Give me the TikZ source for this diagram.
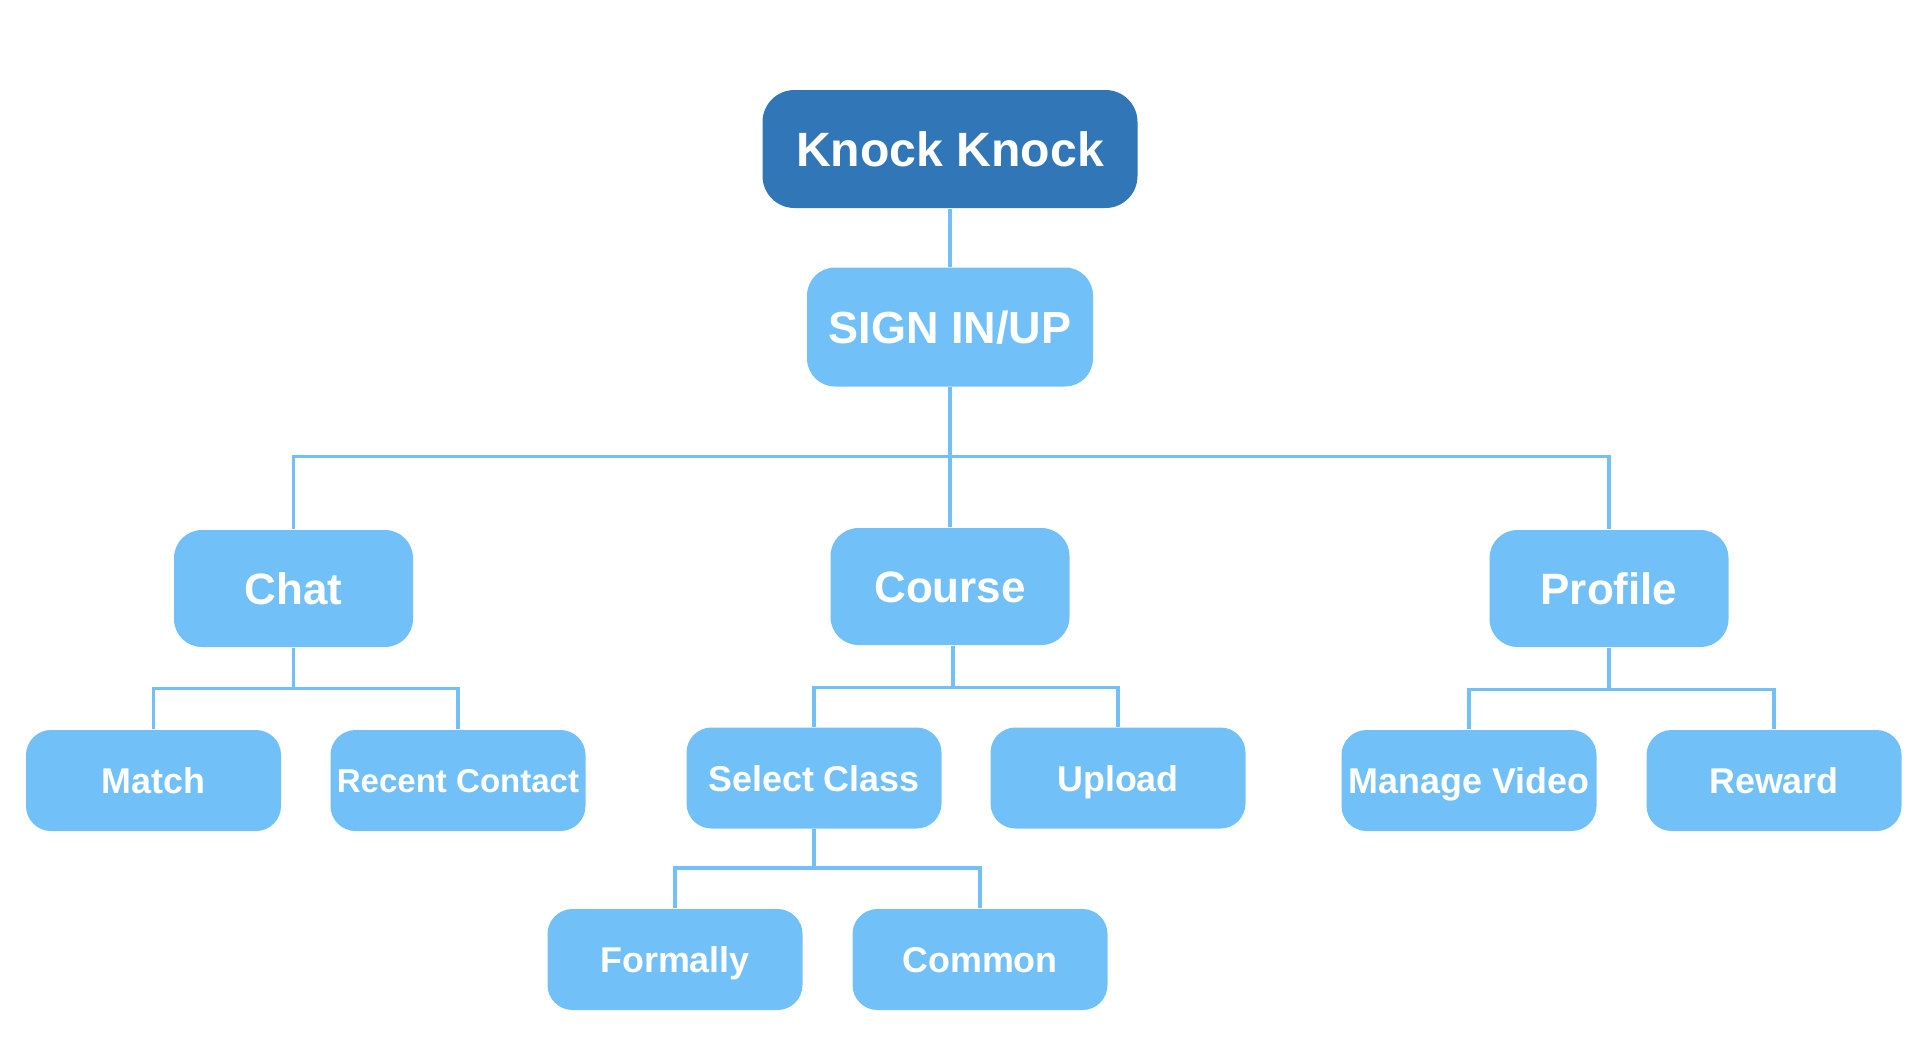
\documentclass[tikz,border=0pt]{standalone}
\usepackage{fontspec}
\setmainfont{Liberation Sans}
\definecolor{knockdark}{HTML}{3176B6}
\definecolor{knocklight}{HTML}{72C0F8}
\tikzset{
	box/.style     = {shape=rectangle, rounded corners=0.28cm, fill=knocklight, text=white,
	                  inner sep=0pt, align=center, text depth=0pt},
	rootbox/.style = {box, fill=knockdark, minimum width=3.75cm, minimum height=1.18cm,
	                  rounded corners=0.32cm, font=\fontsize{13.7pt}{14pt}\selectfont\bfseries, text height=0.35cm},
	signbox/.style = {box, minimum width=2.86cm, minimum height=1.19cm,
	                  font=\fontsize{12.8pt}{13pt}\selectfont\bfseries, text height=0.33cm},
	mainbox/.style = {box, minimum width=2.39cm, minimum height=1.17cm,
	                  font=\fontsize{12.5pt}{13pt}\selectfont\bfseries, text height=0.316cm},
	leafbox/.style = {box, minimum width=2.55cm, minimum height=1.01cm, rounded corners=0.25cm,
	                  font=\fontsize{10.2pt}{11pt}\selectfont\bfseries, text height=0.26cm},
	link/.style    = {draw=knocklight, line width=1pt},
}
\begin{document}
\begin{tikzpicture}
	\useasboundingbox (0,0) rectangle (19.32,-10.42);

	\node[rootbox] (knock)    at (9.50,-1.49)   {Knock Knock};
	\node[signbox] (sign)     at (9.50,-3.27)   {SIGN IN/UP};

	\node[mainbox] (chat)     at (2.935,-5.885) {Chat};
	\node[mainbox] (course)   at (9.50,-5.865)  {Course};
	\node[mainbox] (profile)  at (16.09,-5.885) {Profile};

	\node[leafbox] (match)    at (1.535,-7.805) {Match};
	\node[leafbox, font=\fontsize{9.4pt}{10pt}\selectfont\bfseries, text height=0.24cm]
	               (recent)   at (4.58,-7.805)  {Recent Contact};
	\node[leafbox] (select)   at (8.14,-7.78)   {Select Class};
	\node[leafbox] (upload)   at (11.18,-7.78)  {Upload};
	\node[leafbox] (manage)   at (14.69,-7.805) {Manage Video};
	\node[leafbox] (reward)   at (17.74,-7.805) {Reward};
	\node[leafbox] (formally) at (6.75,-9.595)  {Formally};
	\node[leafbox] (common)   at (9.80,-9.595)  {Common};

	\path [link] (knock)        edge (sign);
	\draw [link] (sign.south)   -- ++(0,-0.695) -| (chat.north);
	\draw [link] (sign.south)   -- (course.north);
	\draw [link] (sign.south)   -- ++(0,-0.695) -| (profile.north);

	\draw [link] (chat.south)   -- ++(0,-0.41) -| (match.north);
	\draw [link] (chat.south)   -- ++(0,-0.41) -| (recent.north);
	\draw [link] ([xshift=0.03cm]course.south) -- ++(0,-0.42) -| (select.north);
	\draw [link] ([xshift=0.03cm]course.south) -- ++(0,-0.42) -| (upload.north);
	\draw [link] (profile.south) -- ++(0,-0.42) -| (manage.north);
	\draw [link] (profile.south) -- ++(0,-0.42) -| (reward.north);

	\draw [link] (select.south) -- ++(0,-0.39) -| (formally.north);
	\draw [link] (select.south) -- ++(0,-0.39) -| (common.north);
\end{tikzpicture}
\end{document}
